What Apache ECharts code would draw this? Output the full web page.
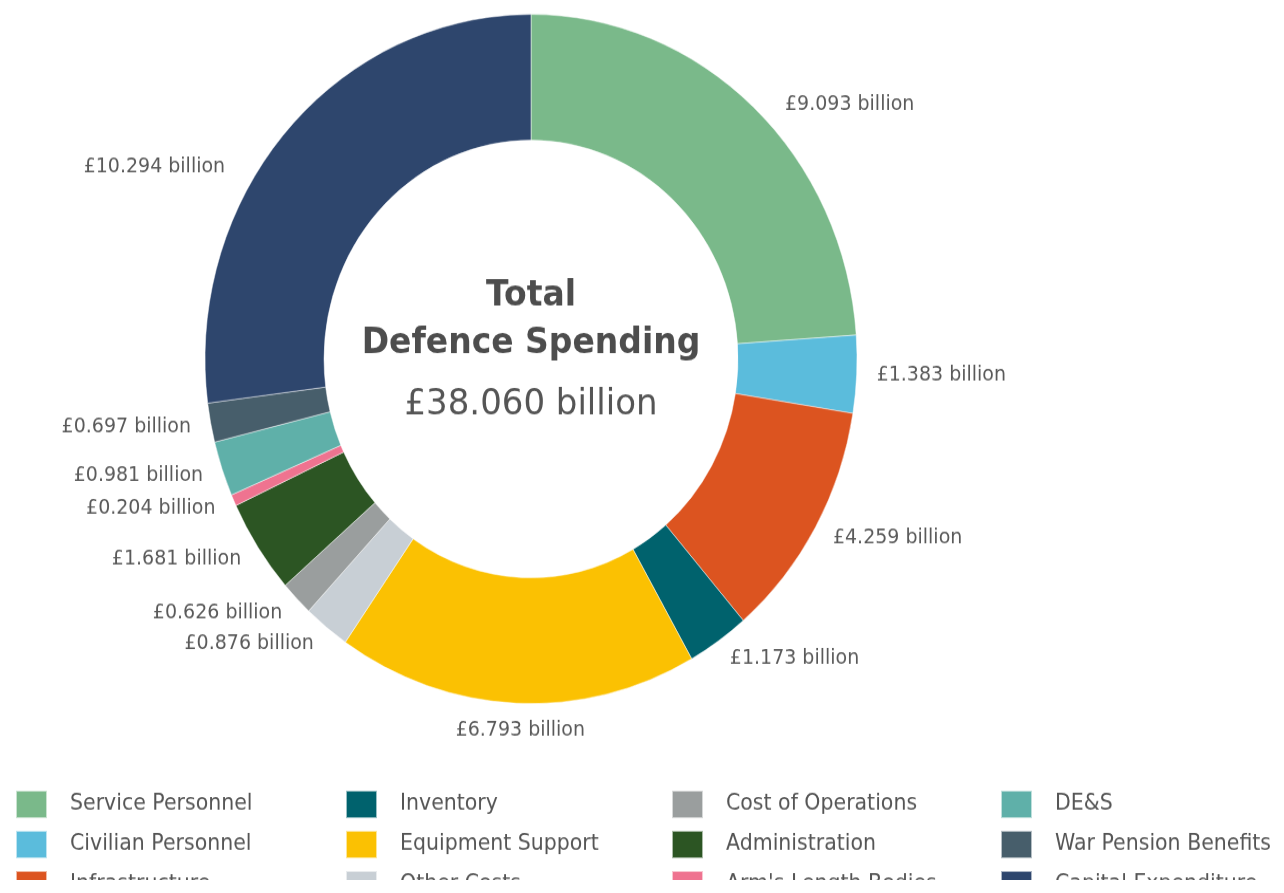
<!DOCTYPE html>
<html>
<head>
<meta charset="utf-8">
<script src="https://cdn.jsdelivr.net/npm/echarts@6/dist/echarts.min.js"></script>
<style>
  html, body { margin: 0; padding: 0; background: #ffffff; overflow: hidden; }
  #chart { width: 1284px; height: 880px; transform: scaleY(1.057); transform-origin: 0 0; }
</style>
</head>
<body>
<div id="chart"></div>
<script>
const categories = [
  'Service Personnel', 'Civilian Personnel', 'Infrastructure', 'Inventory',
  'Equipment Support', 'Other Costs', 'Cost of Operations', 'Administration',
  "Arm's Length Bodies", 'DE&S', 'War Pension Benefits', 'Capital Expenditure'
];
const values = [9.093, 1.383, 4.259, 1.173, 6.793, 0.876, 0.626, 1.681, 0.204, 0.981, 0.697, 10.294];
const colors = [
  '#7ab98a', '#5bbcdc', '#dc5420', '#00626d',
  '#fbc102', '#c8cfd5', '#9a9e9e', '#2c5523',
  '#ef7390', '#5fb0a9', '#475e6b', '#2e466d'
];
const titleLines = ['Total', 'Defence Spending'];
const totalText = '£38.060 billion';

const FONT = '"DejaVu Sans", sans-serif';
const cx = 531, cy = 339.6;

// small nudges for a few hand-placed labels (layout only)
const labelNudge = {
  0: { dx: 18, dy: 12 },
  4: { align: 'center', dx: 5, dy: 6 },
  11: { dx: -46, dy: 47 }
};

const pieData = categories.map((name, i) => ({ name: name, value: values[i] }));

const legendCols = [0, 1, 2, 3].map(c => categories.slice(c * 3, c * 3 + 3));
const legendLefts = [15, 345, 671, 1000];

const chart = echarts.init(document.getElementById('chart'), null, { renderer: 'canvas' });

chart.setOption({
  animation: false,
  color: colors,
  legend: legendCols.map((col, c) => ({
    data: col,
    orient: 'vertical',
    left: legendLefts[c],
    top: 747,
    height: 120,
    icon: 'rect',
    itemWidth: 31,
    itemHeight: 26,
    itemGap: 10,
    selectedMode: false,
    padding: 0,
    textStyle: {
      fontFamily: FONT,
      fontSize: 20.5,
      color: '#555555',
      padding: [0, 0, 0, 18]
    }
  })),
  graphic: [
    { type: 'text', x: cx, y: 280, style: { text: titleLines[0], font: 'bold 33px ' + FONT, fill: '#4d4d4d', textAlign: 'center', textVerticalAlign: 'middle' } },
    { type: 'text', x: cx, y: 325, style: { text: titleLines[1], font: 'bold 33px ' + FONT, fill: '#4d4d4d', textAlign: 'center', textVerticalAlign: 'middle' } },
    { type: 'text', x: cx, y: 383, style: { text: totalText, font: '34px ' + FONT, fill: '#555555', textAlign: 'center', textVerticalAlign: 'middle' } }
  ],
  series: [{
    type: 'pie',
    center: [cx, cy],
    radius: [207, 326],
    startAngle: 90,
    clockwise: true,
    avoidLabelOverlap: false,
    emphasis: { disabled: true },
    itemStyle: { borderColor: 'rgba(255,255,255,0.6)', borderWidth: 0.8 },
    label: {
      show: true,
      position: 'outside',
      distanceToLabelLine: 0,
      fontFamily: FONT,
      fontSize: 19,
      color: '#5a5a5a',
      formatter: p => '£' + p.value.toFixed(3) + ' billion'
    },
    labelLine: { show: false, length: 20, length2: 0 },
    labelLayout: function (params) {
      return labelNudge[params.dataIndex] || {};
    },
    data: pieData
  }]
});
</script>
</body>
</html>
